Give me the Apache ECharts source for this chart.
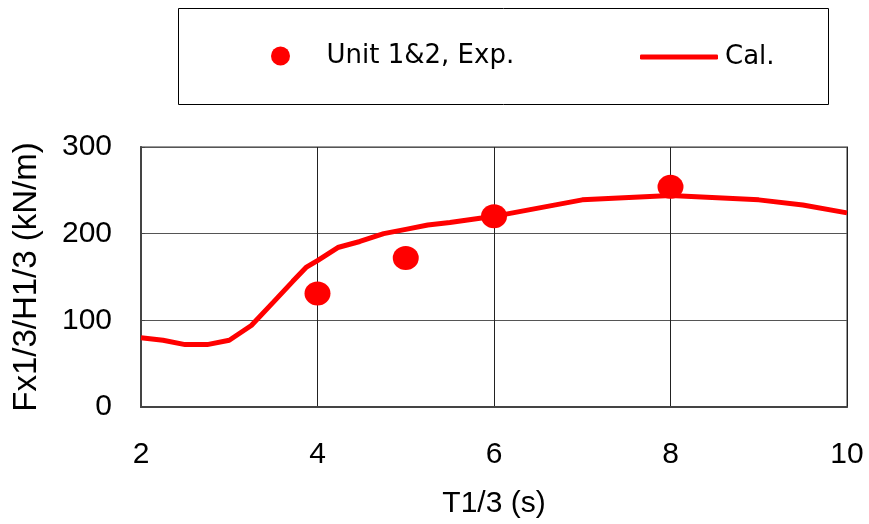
<!DOCTYPE html>
<html>
<head>
<meta charset="utf-8">
<script src="https://cdn.jsdelivr.net/npm/echarts@6/dist/echarts.min.js"></script>
<style>html,body{margin:0;padding:0;background:#fff;}#c{width:869px;height:524px;}</style>
</head>
<body>
<div id="c"></div>
<script>
const xTicks = [2, 4, 6, 8, 10];
const yTicks = [0, 100, 200, 300];
const expT = [4, 5, 6, 8];
const expF = [131, 172, 220, 254];
const calT = [2, 2.25, 2.5, 2.75, 3, 3.25, 3.5, 3.72, 3.87, 4, 4.23, 4.48, 4.75, 5, 5.25, 5.5, 6, 7, 8, 9, 9.5, 10];
const calF = [80, 77, 72, 72, 77, 94, 121, 145, 161, 169, 184, 191, 200, 205, 210, 213, 220, 239, 244, 239, 233, 224];

const chart = echarts.init(document.getElementById('c'), null, {renderer: 'canvas'});
const font = 'Liberation Sans, Arial, sans-serif';
chart.setOption({
  animation: false,
  backgroundColor: '#fff',
  graphic: [{
    type: 'rect', left: 178, top: 8,
    shape: {width: 650, height: 96},
    style: {fill: '#fff', stroke: '#000', lineWidth: 1},
    z: 0
  }],
  legend: [{
    data: ['Unit 1&2, Exp.'],
    left: 271, top: 43, padding: 0,
    itemWidth: 22, itemHeight: 19, icon: 'circle',
    textStyle: {fontFamily: 'DejaVu Sans', fontSize: 26, color: '#000', padding: [0, 0, 0, 30]}
  }, {
    data: ['Cal.'],
    left: 640, top: 44, padding: 0,
    itemWidth: 78, itemHeight: 5, icon: 'roundRect',
    itemStyle: {color: '#ff0000'},
    textStyle: {fontFamily: 'DejaVu Sans', fontSize: 26, color: '#000', padding: [0, 0, 0, 2]}
  }],
  grid: {left: 141, right: 22, top: 147, bottom: 114, show: true, borderColor: '#999', borderWidth: 2, backgroundColor: 'transparent'},
  xAxis: {
    type: 'value', min: 2, max: 10, interval: 2,
    name: 'T1/3 (s)', nameLocation: 'middle', nameGap: 82,
    nameTextStyle: {fontFamily: font, fontSize: 30, color: '#000'},
    axisLine: {show: true, lineStyle: {color: '#444', width: 2}},
    axisTick: {show: false},
    splitLine: {show: true, lineStyle: {color: '#222', width: 1}},
    axisLabel: {fontFamily: font, fontSize: 30, color: '#000', margin: 33,
      formatter: v => xTicks.includes(v) ? String(v) : ''}
  },
  yAxis: {
    type: 'value', min: 0, max: 300, interval: 100,
    name: 'Fx1/3/H1/3 (kN/m)', nameLocation: 'middle', nameGap: 98, nameRotate: 90,
    nameTextStyle: {fontFamily: font, fontSize: 33, color: '#000'},
    axisLine: {show: true, lineStyle: {color: '#444', width: 2}},
    axisTick: {show: true, inside: true, length: 4, lineStyle: {color: '#444'}},
    splitLine: {show: true, lineStyle: {color: '#555', width: 1}},
    axisLabel: {fontFamily: font, fontSize: 30, color: '#000', margin: 29,
      formatter: v => yTicks.includes(v) ? String(v) : ''}
  },
  series: [{
    name: 'Unit 1&2, Exp.', type: 'scatter',
    data: expT.map((t, i) => [t, expF[i]]),
    symbol: 'circle', symbolSize: [26, 24],
    itemStyle: {color: '#ff0000', opacity: 1},
    z: 3
  }, {
    name: 'Cal.', type: 'line',
    data: calT.map((t, i) => [t, calF[i]]),
    symbol: 'none', showSymbol: false,
    lineStyle: {color: '#ff0000', width: 5},
    itemStyle: {color: '#ff0000'},
    z: 2
  }]
});
</script>
</body>
</html>
